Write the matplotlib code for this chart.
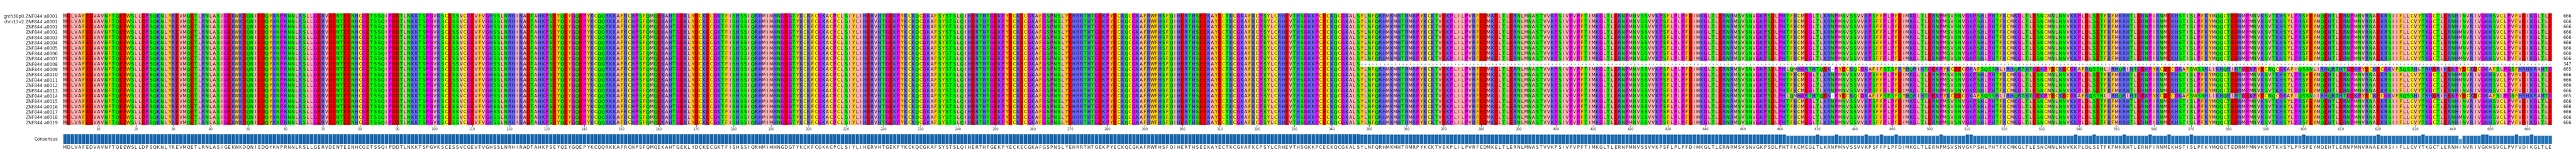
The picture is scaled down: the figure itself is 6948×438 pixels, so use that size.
import matplotlib
matplotlib.use("Agg")
import matplotlib.pyplot as plt
import numpy as np

names = ["grch38p0:ZNF844:a0001", "chm13v2:ZNF844:a0001"] + ["ZNF844:a%04d" % i for i in range(1, 20)]

base_seq = (
    "MDLVAFEDVAVNFTQEEWSLLDPSQKNLYREVMQETLRNLASIGEKWKDQNIEDQYKNPRNNLRSLLGERVDEN"
    "TEENHCGETSSQIPDDTLNKKTSPGVKSCESSVCGEVFVGHSSLNRHIRADTAHKPSEYQEYGQEPYKCQQRKK"
    "AFRCHPSFQMQEKAHTGEKLYDCKECGKTFISHSSIQRHMIMHNGDGTYKCKFCGKACPCLSIYLIHERVHTGE"
    "KPYKCKQCGKAFSYSTSLQIHERTHTGEKPYECKECGKAFGSPNSLYEHRRTHTGEKPYECKQCGKAFRWFHSF"
    "QIHERTHSEEKAYECTKCGKAFKCPSYLCRHEVTHSGKKPCECKQCGKALSYLNFQRHMKMHTRMRPYKCKTVE"
    "KPLILPVRFEDMKELTLERNLMNASTVVKPSIVPVPFTIMKGLTLERNPMNVSSVVKPSFLPLPFDIMKGLTLE"
    "RNRMSVSNVGKPSDLPHTFKCMEGLTLKRNPMNVSSVVKPSFFPLPFDIMKGLTLERNPMSVSNVGKPSHLPH"
    "TFKCMKGLTLESNCMNLNNVKKPLDLSETFKFMKRHTLERNPIRNMEKHSTISLPFKYMQQCTEDRMPMNVKS"
    "VTKHSYLPRSFEYMQEHTLERNPMNVRNAEKRSIIFLLCVYTKGCTLERNHINVRIVGKHSVCLPVFVDIKGLTLE"
)

# frameshifted tail (from column 462) in a0009 / a0014
shift_head_a = "LQMHGRTHTQEK-PYECKQCGKAFIFSTSFRYH"
shift_head_b = "LQMHGRTHTQEK-PYECKQCGKAFIFSTSFQYH"
shift_mid = ("QRIHTGEKPYKCEECGKAFSQSSHLIRH"
             "QRTHTGEKPYECKECGKAFRQSSNLIRH"
             "QRIHTGEKPYKCDECGKAFSWSSHLIKH"
             "QRIHTGEKPYECNQCGKAFIQSSNLIRH"
             "QRTHTGEKPYECKECGKVFSQSSHLTRH"
             "ERIH")
shift_tail = "EKPYECKDCGKAFSLPGSFHRHKRAHTG"

m642_rows = [3, 4, 6, 8, 11, 12, 19]
i658_rows = [13]
short_row = 9
short_len = 347
shift_rows = {10: shift_head_a, 15: shift_head_b}

N = 666
base = (base_seq + "-" * N)[:N]
rows = []
for r in range(len(names)):
    s = list(base)
    if r in m642_rows:
        s[641] = "M"
    if r in i658_rows:
        s[657] = "I"
    if r == short_row:
        s = s[:short_len] + ["-"] * (N - short_len)
    if r in shift_rows:
        tail = (shift_rows[r] + shift_mid + shift_tail)
        s = s[:461] + list(tail)
        s = (s + ["-"] * N)[:N]
    rows.append(s)

cmap = {}
for c in "ILVAM": cmap[c] = "#FFAFAF"
for c in "DE": cmap[c] = "#FF0000"
for c in "FWY": cmap[c] = "#FFC800"
for c in "NQST": cmap[c] = "#00FF00"
for c in "GP": cmap[c] = "#FF00FF"
for c in "HKR": cmap[c] = "#6464FF"
cmap["C"] = "#FFFF00"
cmap["-"] = "#FFFFFF"

W, H = 6948, 438
fig = plt.figure(figsize=(W / 100, H / 100), dpi=100)
x0, x1 = 170 / W, 6883 / W
ax = fig.add_axes([x0, 1 - 338 / H, x1 - x0, (338 - 36) / H])
nr = len(rows)
img = np.array([[matplotlib.colors.to_rgb(cmap.get(ch, "#FFFFFF")) for ch in row] for row in rows])
ax.imshow(img, aspect="auto", extent=(0, N, nr, 0), interpolation="nearest")
for r, row in enumerate(rows):
    for c, ch in enumerate(row):
        ax.text(c + 0.5, r + 0.55, ch, ha="center", va="center", fontsize=8.5, color="#1a1a1a")
ax.set_xlim(0, N)
ax.set_ylim(nr, 0)
ax.set_yticks(np.arange(nr) + 0.5)
ax.set_yticklabels(names, fontsize=8.5, color="#222222")
ax.tick_params(axis="y", length=0, pad=10)
ticks = np.arange(10, N + 1, 10)
ax.set_xticks(ticks - 0.5)
ax.set_xticklabels([str(t) for t in ticks], fontsize=6.5, color="#333333")
ax.tick_params(axis="x", length=3, pad=2)
for sp in ax.spines.values():
    sp.set_visible(False)
counts = [sum(1 for ch in row if ch != "-") for row in rows]
for r, cnt in enumerate(counts):
    ax.text(N + 3, r + 0.55, str(cnt), ha="left", va="center", fontsize=8.5, color="#222222")

# consensus
cons = []
frac = []
for c in range(N):
    col = [row[c] for row in rows]
    letters = [ch for ch in col if ch != "-"]
    best = max(set(letters), key=letters.count)
    cons.append(best)
    frac.append(col.count(best) / nr)
cax = fig.add_axes([x0, 1 - 389 / H, x1 - x0, 27 / H])
colors = [plt.cm.Blues(0.35 + 0.45 * f) for f in frac]
cax.bar(np.arange(N) + 0.5, frac, width=1.0, color=colors, edgecolor="#d8e6f2", linewidth=0.8)
cax.set_xlim(0, N)
cax.set_ylim(0, 1)
cax.set_xticks(np.arange(N) + 0.5)
cax.set_xticklabels(cons, fontsize=8.5, color="#222222")
cax.tick_params(axis="x", length=0, pad=2)
cax.set_yticks([0.5])
cax.set_yticklabels(["Consensus"], fontsize=8.5, color="#222222")
cax.tick_params(axis="y", length=0, pad=10)
for sp in cax.spines.values():
    sp.set_visible(False)

fig.savefig("out.png", dpi=100)
